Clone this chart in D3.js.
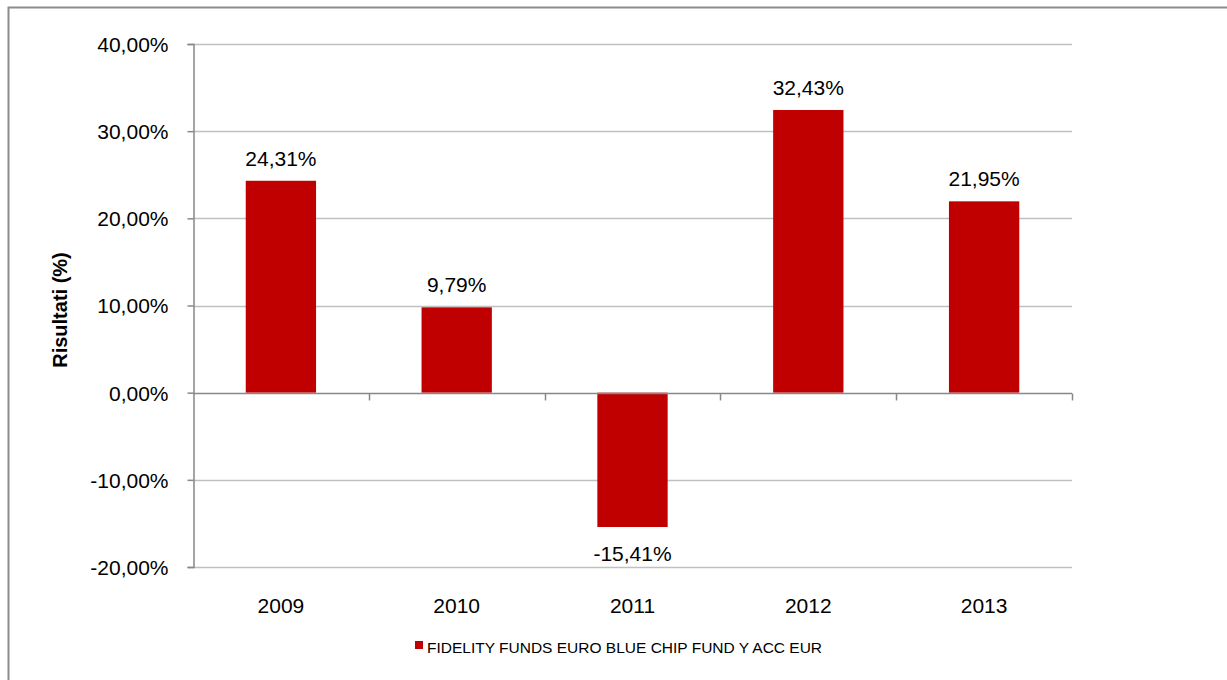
<!DOCTYPE html>
<html><head><meta charset="utf-8">
<script src="https://cdn.jsdelivr.net/npm/d3@7"></script>
<style>body{margin:0;background:#fff;}svg{display:block;font-family:"Liberation Sans",Arial,sans-serif;}</style>
</head><body><svg id="c" width="1227" height="680"></svg>
<script>
const categories = ["2009","2010","2011","2012","2013"];
const values = [24.31, 9.79, -15.41, 32.43, 21.95];
const yTicks = [-20, -10, 0, 10, 20, 30, 40];
const seriesName = "FIDELITY FUNDS EURO BLUE CHIP FUND Y ACC EUR";
const yLabel = "Risultati (%)";

const fmt = v => v.toFixed(2).replace(".", ",") + "%";
const svg = d3.select("#c");
const m = {l:193, r:1072, t:44, b:567};
const x = d3.scaleBand().domain(categories).range([m.l, m.r]).paddingInner(0.6).paddingOuter(0.3);
const xb = d3.scaleBand().domain(categories).range([m.l, m.r]);
const y = d3.scaleLinear().domain([-20, 40]).range([m.b, m.t]);

// outer border
svg.append("rect").attr("x",8.5).attr("y",7.5).attr("width",1240).attr("height",700)
  .attr("fill","none").attr("stroke","#8c8c8c").attr("stroke-width",2);

// gridlines
svg.append("g").selectAll("line").data(yTicks.filter(t=>t!==0)).join("line")
  .attr("x1",m.l).attr("x2",m.r).attr("y1",d=>Math.round(y(d))+0.5).attr("y2",d=>Math.round(y(d))+0.5)
  .attr("stroke","#c0c0c0").attr("stroke-width",1.5);

// bars
svg.append("g").selectAll("rect").data(values).join("rect")
  .attr("x",(d,i)=>x(categories[i])).attr("width",x.bandwidth())
  .attr("y",d=>y(Math.max(0,d))).attr("height",d=>Math.abs(y(d)-y(0)))
  .attr("fill","#c00000");

// y axis
const yAxis = d3.axisLeft(y).tickValues(yTicks).tickFormat(fmt).tickSize(6).tickPadding(19);
const gy = svg.append("g").attr("transform",`translate(${m.l+0.5},0)`).call(yAxis);
gy.select(".domain").attr("stroke","#888").attr("stroke-width",1.5);
gy.selectAll(".tick line").attr("stroke","#888").attr("stroke-width",1.5);
gy.selectAll(".tick text").attr("font-size",21).attr("fill","#000").attr("font-family","Liberation Sans, Arial, sans-serif").attr("dy","0.35em");

// x axis at zero
const y0 = Math.round(y(0))+0.5;
svg.append("line").attr("x1",m.l).attr("x2",m.r).attr("y1",y0).attr("y2",y0).attr("stroke","#888").attr("stroke-width",1.5);
svg.append("g").selectAll("line").data(categories).join("line")
  .attr("x1",d=>Math.round(xb(d)+xb.bandwidth())+0.5).attr("x2",d=>Math.round(xb(d)+xb.bandwidth())+0.5)
  .attr("y1",y0).attr("y2",y0+7).attr("stroke","#888").attr("stroke-width",1.5);

// category labels
svg.append("g").selectAll("text").data(categories).join("text")
  .attr("x",d=>xb(d)+xb.bandwidth()/2).attr("y",613).attr("text-anchor","middle")
  .attr("font-size",21).attr("fill","#000").text(d=>d);

// value labels
svg.append("g").selectAll("text").data(values).join("text")
  .attr("x",(d,i)=>x(categories[i])+x.bandwidth()/2)
  .attr("y",d=> d>=0 ? y(d)-15 : y(d)+34)
  .attr("text-anchor","middle").attr("font-size",21).attr("fill","#000").text(fmt);

// y label
svg.append("text").attr("transform",`translate(67,310) rotate(-90)`).attr("text-anchor","middle")
  .attr("font-size",20).attr("font-weight","bold").attr("fill","#000").text(yLabel);

// legend
svg.append("rect").attr("x",415).attr("y",641).attr("width",8).attr("height",8).attr("fill","#c00000");
svg.append("text").attr("x",427).attr("y",653).attr("font-size",15.5).attr("fill","#000").text(seriesName);
</script></body></html>
